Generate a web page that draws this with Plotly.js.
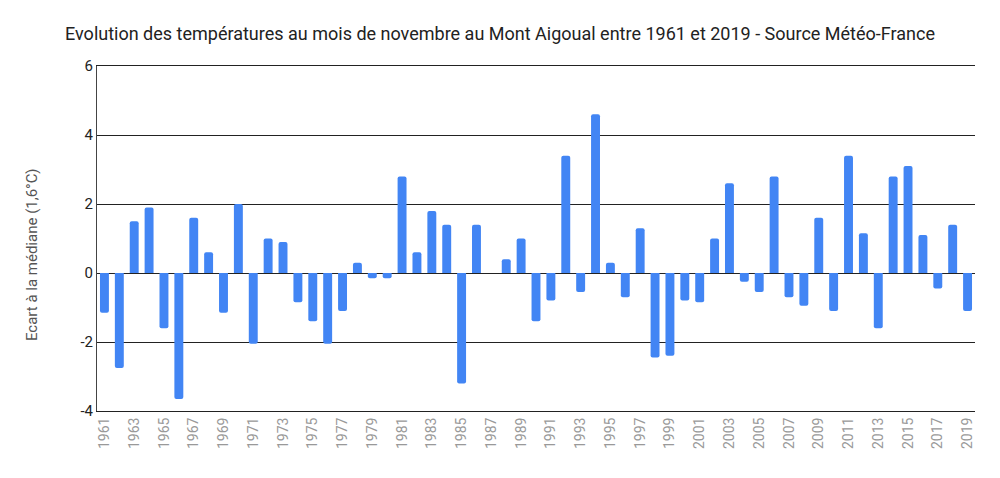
<!DOCTYPE html>
<html>
<head>
<meta charset="utf-8">
<script src="https://cdn.plot.ly/plotly-3.0.1.min.js"></script>
<style>
  html, body { margin: 0; padding: 0; background: #fff; }
  #chart { width: 1000px; height: 478px; }
</style>
</head>
<body>
<div id="chart"></div>
<script>
// Années 1961 -> 2019
var years = [];
for (var y = 1961; y <= 2019; y++) years.push(y);

// Ecart à la médiane (°C)
var ecarts = [
  -1.15, -2.75, 1.5, 1.9, -1.6, -3.65, 1.6, 0.6, -1.15, 2.0,   // 1961-1970
  -2.05, 1.0, 0.9, -0.85, -1.4, -2.05, -1.1, 0.3, -0.15, -0.15, // 1971-1980
  2.8, 0.6, 1.8, 1.4, -3.2, 1.4, 0, 0.4, 1.0, -1.4,             // 1981-1990
  -0.8, 3.4, -0.55, 4.6, 0.3, -0.7, 1.3, -2.45, -2.4, -0.8,     // 1991-2000
  -0.85, 1.0, 2.6, -0.25, -0.55, 2.8, -0.7, -0.95, 1.6, -1.1,   // 2001-2010
  3.4, 1.15, -1.6, 2.8, 3.1, 1.1, -0.45, 1.4, -1.1              // 2011-2019
];

var yTicks = [-4, -2, 0, 2, 4, 6];

var trace = {
  x: years,
  y: ecarts,
  type: 'bar',
  marker: { color: '#4285F4', cornerradius: 2 },
  hoverinfo: 'x+y'
};

var layout = {
  width: 1000,
  height: 478,
  margin: { l: 97, r: 25, t: 66, b: 67 },
  paper_bgcolor: '#fff',
  plot_bgcolor: '#fff',
  bargap: 0.4,
  showlegend: false,
  font: { family: 'Roboto, Arial, sans-serif' },
  title: {
    text: 'Evolution des températures au mois de novembre au Mont Aigoual entre 1961 et 2019 - Source Météo-France',
    font: { size: 18, color: '#222' },
    x: 0.5,
    xanchor: 'center',
    y: 0.93,
    yanchor: 'middle'
  },
  xaxis: {
    range: [1960.5, 2019.5],
    tickmode: 'linear',
    tick0: 1961,
    dtick: 2,
    tickangle: -90,
    tickfont: { size: 14, color: '#999' },
    showgrid: false,
    zeroline: false,
    showline: true,
    mirror: true,
    linecolor: '#222',
    linewidth: 1,
    ticks: ''
  },
  yaxis: {
    range: [-4, 6],
    tickvals: yTicks,
    ticktext: yTicks.map(String),
    tickfont: { size: 15, color: '#222' },
    showgrid: true,
    gridcolor: '#222',
    gridwidth: 1,
    zeroline: true,
    zerolinecolor: '#222',
    zerolinewidth: 1,
    showline: true,
    linecolor: '#444',
    linewidth: 1,
    ticks: '',
    ticklen: 0
  },
  // titre de l'axe Y placé à la main (un peu plus bas que le centre)
  annotations: [{
    text: 'Ecart à la médiane (1,6°C)',
    xref: 'paper', yref: 'paper',
    x: -0.074, y: 0.452,
    xanchor: 'center', yanchor: 'middle',
    textangle: -90,
    showarrow: false,
    font: { size: 15, color: '#555' }
  }]
};

Plotly.newPlot('chart', [trace], layout, { displayModeBar: false, staticPlot: true });
</script>
</body>
</html>
